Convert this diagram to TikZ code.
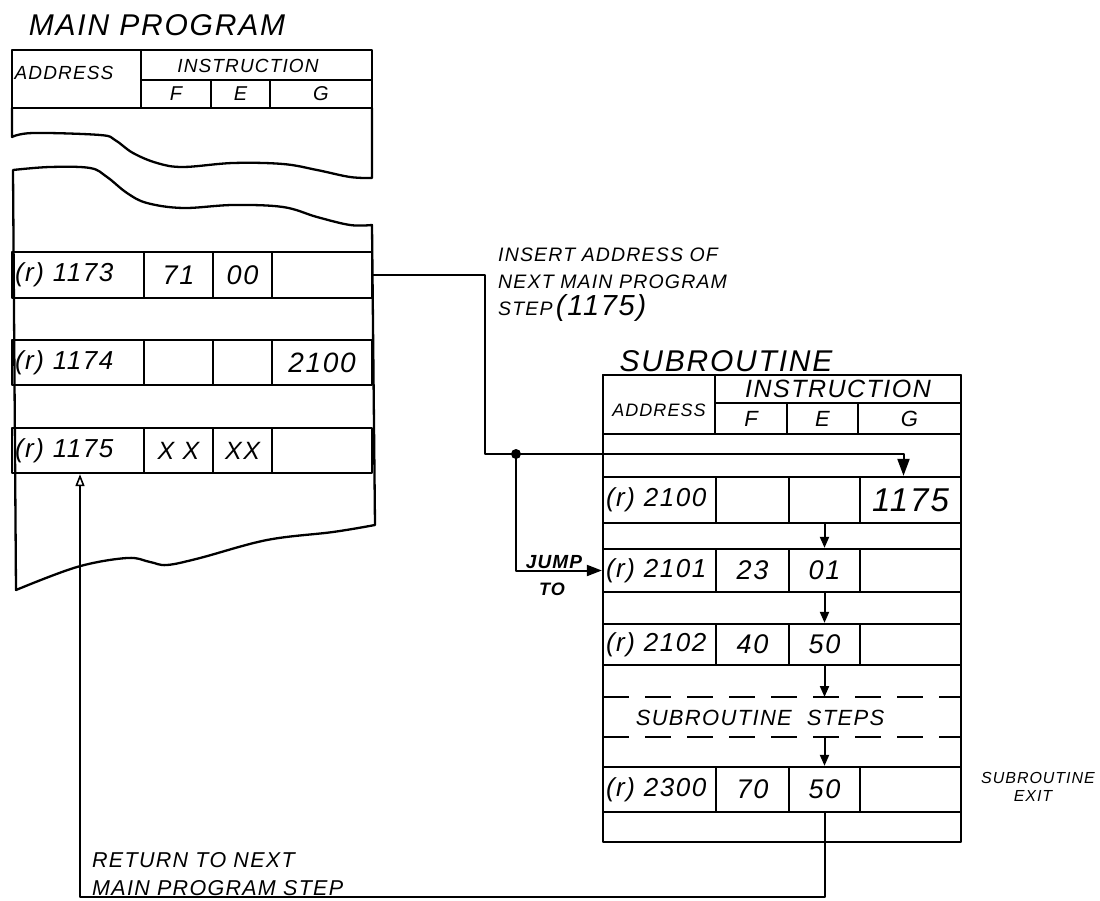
\documentclass[tikz,border=0pt]{standalone}
\usepackage{fontspec}
\setmainfont{Liberation Sans}
\newfontfamily\handfam{Liberation Sans}[LetterSpace=6]
\usetikzlibrary{arrows.meta}
\newcommand\HF[1]{\fontsize{#1}{#1}\selectfont\handfam\itshape}
\begin{document}
\begin{tikzpicture}[x=1pt,y=-1pt,line join=round,
  ln/.style={line width=2.3pt},
  cell/.style={draw,line width=2.3pt,inner sep=0pt,anchor=center},
  acell/.style={cell,align=left,inner xsep=3pt},
  conn/.style={line width=2pt},
  bigtip/.style={-{Triangle[length=17pt,width=12pt]}},
  midtip/.style={-{Triangle[length=15pt,width=11pt]}},
  smalltip/.style={-{Triangle[length=11pt,width=9pt]}},
  opentip/.style={-{Triangle[open,length=12pt,width=9pt,line width=1.6pt]}},
  lbl/.style={inner sep=0pt},
  dsh/.style={line width=2pt,dash pattern=on 26pt off 16pt}]
\useasboundingbox (0,0) rectangle (1100,901);
\fill[white] (0,0) rectangle (1100,901);

% ---------------- MAIN PROGRAM ----------------
\node[lbl,font=\HF{30}] (mtitle) at (157,25) {MAIN PROGRAM};

% header
\node[cell,minimum width=129pt,minimum height=58pt] (mha) at (76.5,79) {};
\node[lbl,font=\HF{19}] (mhat) at (64,73) {ADDRESS};
\node[cell,minimum width=231pt,minimum height=30pt] (mhi) at (256.5,65) {};
\node[lbl,font=\HF{19}] (mhit) at (248,66) {INSTRUCTION};
\node[cell,minimum width=70pt,minimum height=28pt,font=\HF{20}] (mhf) at (176,94) {F};
\node[cell,minimum width=59pt,minimum height=28pt,font=\HF{20}] (mhe) at (240.5,94) {E};
\node[cell,minimum width=102pt,minimum height=28pt,font=\HF{20}] (mhg) at (321,94) {G};

% upper fragment
\draw[ln] (12,108) -- (12,137)
  -- plot[smooth,tension=0.6] coordinates {(12,137) (33,133) (100,135) (115,140) (133,153) (157,163) (183,167) (233,163) (283,164) (317,170) (350,177) (372,178)}
  -- (372,108);

% lower fragment
\draw[ln] plot[smooth,tension=0.6] coordinates {(13,170) (50,167) (90,168) (107,177) (127,193) (147,203) (183,208) (233,205) (283,207) (317,217) (350,225) (372,225)}
  -- (375,525)
  -- plot[smooth,tension=0.6] coordinates {(375,525) (333,532) (267,540) (200,558) (167,565) (150,562) (127,558) (77,567) (16,590)}
  -- cycle;

% rows
\node[acell,text width=126pt,minimum height=46pt,font=\HF{26}] (m73a) at (78,275) {(r) 1173};
\node[cell,minimum width=69pt,minimum height=46pt,font=\HF{27}] (m73f) at (178.5,275) {71};
\node[cell,minimum width=59pt,minimum height=46pt,font=\HF{27}] (m73e) at (242.5,275) {00};
\node[cell,minimum width=100pt,minimum height=46pt] (m73g) at (322,275) {};

\node[acell,text width=126pt,minimum height=45pt,font=\HF{26}] (m74a) at (78,362.5) {(r) 1174};
\node[cell,minimum width=69pt,minimum height=45pt] (m74f) at (178.5,362.5) {};
\node[cell,minimum width=59pt,minimum height=45pt] (m74e) at (242.5,362.5) {};
\node[cell,minimum width=100pt,minimum height=45pt,font=\HF{28}] (m74g) at (322,362.5) {2100};

\node[acell,text width=126pt,minimum height=45pt,font=\HF{26}] (m75a) at (78,450.5) {(r) 1175};
\node[cell,minimum width=69pt,minimum height=45pt,font=\HF{25}] (m75f) at (178.5,450.5) {X X};
\node[cell,minimum width=59pt,minimum height=45pt,font=\HF{25}] (m75e) at (242.5,450.5) {XX};
\node[cell,minimum width=100pt,minimum height=45pt] (m75g) at (322,450.5) {};

% ---------------- SUBROUTINE ----------------
\node[lbl,font=\HF{30}] (stitle) at (726,361) {SUBROUTINE};
\draw[ln] (603,375) rectangle (961,842);

\node[cell,minimum width=112pt,minimum height=59pt] (sha) at (659,404.5) {};
\node[lbl,font=\HF{18}] (shat) at (659,410) {ADDRESS};
\node[cell,minimum width=246pt,minimum height=28pt,font=\HF{25}] (shi) at (838,389) {INSTRUCTION};
\node[cell,minimum width=72pt,minimum height=31pt,font=\HF{22}] (shf) at (751,418.5) {F};
\node[cell,minimum width=71pt,minimum height=31pt,font=\HF{22}] (she) at (822.5,418.5) {E};
\node[cell,minimum width=103pt,minimum height=31pt,font=\HF{22}] (shg) at (909.5,418.5) {G};

\node[acell,text width=107pt,minimum height=46pt,font=\HF{26}] (s00a) at (659.5,500) {(r) 2100};
\node[cell,minimum width=73pt,minimum height=46pt] (s00f) at (752.5,500) {};
\node[cell,minimum width=71pt,minimum height=46pt] (s00e) at (824.5,500) {};
\node[cell,minimum width=101pt,minimum height=46pt,font=\HF{33}] (s00g) at (910.5,500) {1175};

\node[acell,text width=107pt,minimum height=43pt,font=\HF{26}] (s01a) at (659.5,570.5) {(r) 2101};
\node[cell,minimum width=73pt,minimum height=43pt,font=\HF{27}] (s01f) at (752.5,570.5) {23};
\node[cell,minimum width=71pt,minimum height=43pt,font=\HF{27}] (s01e) at (824.5,570.5) {01};
\node[cell,minimum width=101pt,minimum height=43pt] (s01g) at (910.5,570.5) {};

\node[acell,text width=107pt,minimum height=41pt,font=\HF{26}] (s02a) at (659.5,644.5) {(r) 2102};
\node[cell,minimum width=73pt,minimum height=41pt,font=\HF{27}] (s02f) at (752.5,644.5) {40};
\node[cell,minimum width=71pt,minimum height=41pt,font=\HF{27}] (s02e) at (824.5,644.5) {50};
\node[cell,minimum width=101pt,minimum height=41pt] (s02g) at (910.5,644.5) {};

\coordinate (d1w) at (603,697);
\coordinate (d1e) at (961,697);
\coordinate (d2w) at (603,737);
\coordinate (d2e) at (961,737);
\draw[dsh] (d1w) -- (d1e);
\draw[dsh] (d2w) -- (d2e);
\node[lbl,font=\HF{22}] (steps) at (760,718) {SUBROUTINE\ \ STEPS};

\node[acell,text width=107pt,minimum height=45pt,font=\HF{26}] (s23a) at (659.5,789.5) {(r) 2300};
\node[cell,minimum width=73pt,minimum height=45pt,font=\HF{27}] (s23f) at (752.5,789.5) {70};
\node[cell,minimum width=71pt,minimum height=45pt,font=\HF{27}] (s23e) at (824.5,789.5) {50};
\node[cell,minimum width=101pt,minimum height=45pt] (s23g) at (910.5,789.5) {};

\node[lbl,font=\HF{16}] (exit1) at (1038,778) {SUBROUTINE};
\node[lbl,font=\HF{16}] (exit2) at (1033,796) {EXIT};

% ---------------- CONNECTORS ----------------
\coordinate (b1) at (485,454);
\coordinate (j) at (516,454);
\draw[conn,bigtip] (m73g.east) -| (b1) -| ([xshift=-7pt]s00g.north);
\fill (j) circle (5pt);
\draw[conn,midtip] (j) |- (s01a.west);
\node[lbl,font=\HF{19}\bfseries] (jump) at (554,562) {JUMP};
\node[lbl,font=\HF{18}\bfseries] (jto) at (552,589) {TO};

\draw[conn,smalltip] (s00e.south) -- (s01e.north);
\draw[conn,smalltip] (s01e.south) -- (s02e.north);
\draw[conn,smalltip] (s02e.south) -- (s02e.south |- d1w);
\draw[conn,smalltip] (s23e.north |- d2w) -- (s23e.north);

\coordinate (rb) at (80,897);
\draw[conn,opentip] (s23e.south) |- (rb) -- (rb |- m75a.south);

\node[lbl,anchor=base west,font=\HF{19.5}] (ins1) at (498,262) {INSERT ADDRESS OF};
\node[lbl,anchor=base west,font=\HF{19.5}] (ins2) at (498,289) {NEXT MAIN PROGRAM};
\node[lbl,anchor=base west,font=\HF{19.5}] (ins3) at (498,316) {STEP\,{\HF{29}(1175)}};

\node[lbl,anchor=base west,font=\HF{21.5}] (ret1) at (92,867) {RETURN TO NEXT};
\node[lbl,anchor=base west,font=\HF{21.5}] (ret2) at (92,895) {MAIN PROGRAM STEP};
\end{tikzpicture}
\end{document}
